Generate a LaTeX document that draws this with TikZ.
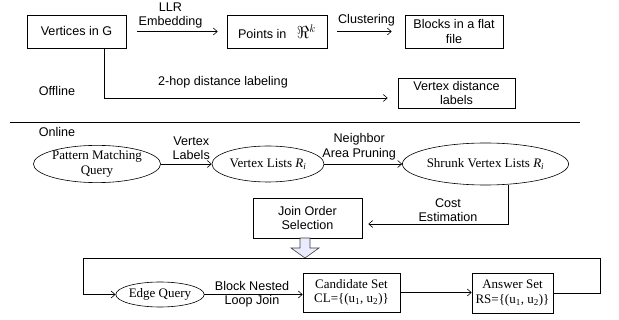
\documentclass[tikz,border=0pt]{standalone}
\usepackage{fontspec}
\setmainfont{Liberation Serif}
\setsansfont{Liberation Sans}
\usetikzlibrary{arrows.meta,shapes.geometric}

\tikzset{
  sanstxt/.style={font=\sffamily\fontsize{12.6}{14.5}\selectfont, align=center},
  seriftxt/.style={font=\rmfamily\fontsize{13}{14.5}\selectfont, align=center},
  sbox/.style={sanstxt, draw, rectangle, inner sep=0pt, line width=0.6pt},
  rbox/.style={seriftxt, draw, rectangle, inner sep=0pt, line width=0.6pt},
  oval/.style={seriftxt, draw, ellipse, inner sep=0pt, line width=0.6pt},
  lbl/.style={sanstxt, inner sep=0pt},
  link/.style={line width=0.6pt, -{Straight Barb[length=4pt,width=7pt]}},
  plain/.style={line width=0.6pt},
}

\begin{document}
\begin{tikzpicture}[x=1pt, y=-1pt]
\useasboundingbox (0,0) rectangle (619,320);

% ---------- offline part ----------
\node[sbox, minimum width=99pt, minimum height=33pt] (v) at (76.5,31.5) {Vertices in G};
\node[sbox, minimum width=100pt, minimum height=33pt] (p) at (277,31.5)
  {Points in \ \ {\fontsize{16}{16}\selectfont$\Re^{k}$}};
\node[sbox, minimum width=98pt, minimum height=33pt] (b) at (454,31.5) {Blocks in a flat\\file};
\node[sbox, minimum width=117pt, minimum height=30pt] (d) at (456.5,93) {Vertex distance\\labels};

\draw[link] ([xshift=11pt]v.east) -- ([xshift=-9pt]p.west)
  node[lbl, midway, above=3pt, xshift=-7pt] {LLR\\Embedding};
\draw[link] ([xshift=10pt]p.east) -- ([xshift=-13pt]b.west)
  node[lbl, midway, above=5pt, xshift=2pt] {Clustering};

\coordinate (vd) at (104,98);
\draw[link] (v.south -| vd) -- (vd) -- ([xshift=-10pt]d.west |- vd);
\node[lbl] (hop) at (223,82) {2-hop distance labeling};
\node[lbl] (off) at (57,91) {Offline};

% separator between the two phases
\coordinate (sepL) at (10,122);
\coordinate (sepR) at (580,122);
\draw[plain] (sepL) -- (sepR);

% ---------- online part ----------
\node[lbl] (on) at (57,132) {Online};

\node[oval, minimum width=111pt, minimum height=34pt] (pm) at (97,164) {Pattern Matching\\Query};
\node[oval, minimum width=112pt, minimum height=36pt] (vl) at (268,164) {Vertex Lists \textit{R}\textsubscript{\textit{i}}};
\node[oval, minimum width=115pt, minimum height=42pt] (sv) at (485.5,164) {Shrunk Vertex Lists \textit{R}\textsubscript{\textit{i}}};

\draw[link] (pm.east) -- (vl.west)
  node[lbl, midway, above=4pt, xshift=5pt] {Vertex\\Labels};
\draw[link] (vl.east) -- (sv.west)
  node[lbl, midway, above=4pt, xshift=-4pt] {Neighbor\\Area Pruning};

\node[sbox, minimum width=109pt, minimum height=40pt] (jo) at (307.5,218) {Join Order\\Selection};

\coordinate (ce) at (508,224);
\draw[link] (sv.south -| ce) -- (ce) -- ([xshift=6pt]jo.east |- ce);
\node[lbl, anchor=south] (cost) at (448,222) {Cost\\Estimation};

% hollow block arrow below the join order box
\draw[line width=0.6pt, draw=black!75, fill=blue!8]
  (300,238) -- (310,238) -- (310,248) -- (319,248) -- (305,258)
  -- (291,248) -- (300,248) -- cycle;

% ---------- join loop ----------
\node[oval, minimum width=86pt, minimum height=25pt] (eq) at (160,294.5) {Edge Query};
\node[rbox, minimum width=97pt, minimum height=39pt] (cs) at (351.5,292.5) {Candidate Set\\CL=\{(u\textsubscript{1}, u\textsubscript{2})\}};
\node[rbox, minimum width=81pt, minimum height=40pt] (as) at (512.5,293) {Answer Set\\RS=\{(u\textsubscript{1}, u\textsubscript{2})\}};

\coordinate (loopL) at (83,258);
\coordinate (loopR) at (600,258);
\draw[plain] (as.east) -- (as.east -| loopR) -- (loopR) -- (loopL);
\draw[link] (loopL) -- (loopL |- eq.west) -- (eq.west);

\draw[link] (eq.east) -- (cs.west |- eq.east);
\node[lbl] (bnl) at (252,294) {Block Nested\\Loop Join};
\draw[link] (cs.east) -- (as.west |- cs.east);
\end{tikzpicture}
\end{document}
